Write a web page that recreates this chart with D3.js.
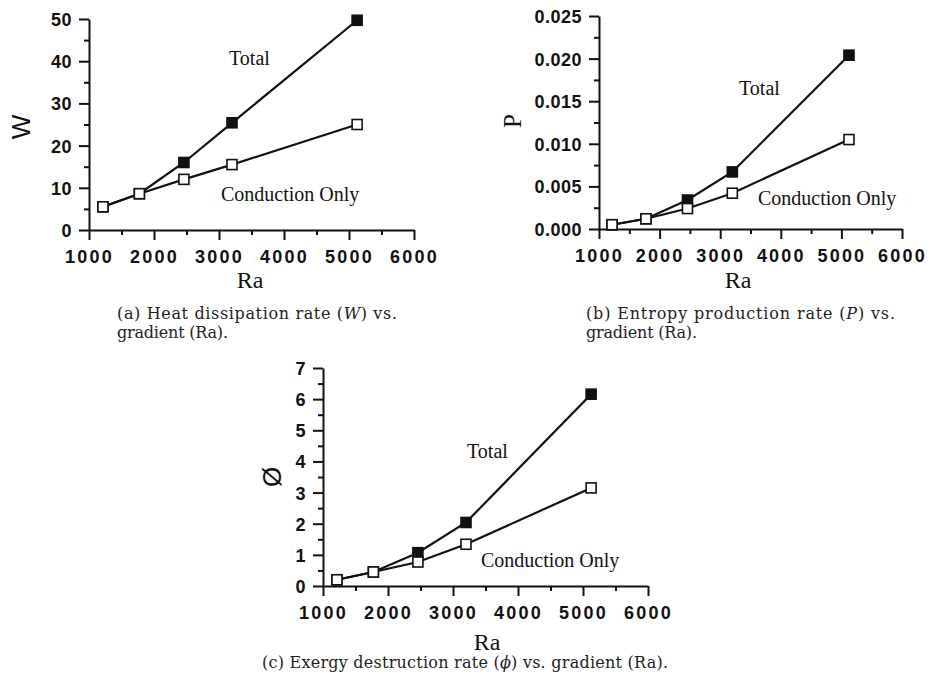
<!DOCTYPE html>
<html>
<head>
<meta charset="utf-8">
<script src="https://cdn.jsdelivr.net/npm/d3@7"></script>
<style>
  html, body { margin: 0; padding: 0; background: #fff; }
  svg { display: block; }
  .tick text { font-family: "Liberation Sans", Arial, sans-serif; font-weight: bold; fill: #111; }
  .cap { font-family: "DejaVu Serif", serif; font-size: 16px; fill: #222; }
</style>
</head>
<body>
<svg id="fig" width="928" height="679"></svg>
<script>
// Rayleigh numbers of the runs
const ra = [1215, 1775, 2460, 3200, 5125];

// (a) heat dissipation rate W
const wTotal = [5.5, 8.6, 16.0, 25.4, 49.7];
const wConduction = [5.5, 8.6, 12.0, 15.5, 25.0];

// (b) entropy production rate P
const pTotal = [0.0005, 0.0012, 0.0034, 0.0067, 0.0204];
const pConduction = [0.0005, 0.0012, 0.0024, 0.0042, 0.0105];

// (c) exergy destruction rate phi
const phiTotal = [0.2, 0.45, 1.07, 2.04, 6.16];
const phiConduction = [0.2, 0.45, 0.77, 1.34, 3.15];

// tick values
const raTicks = [1000, 2000, 3000, 4000, 5000, 6000];
const wTicks = [0, 10, 20, 30, 40, 50];
const pTicks = [0, 0.005, 0.010, 0.015, 0.020, 0.025];
const phiTicks = [0, 1, 2, 3, 4, 5, 6, 7];

const svg = d3.select("#fig");
const SERIF = "'Liberation Serif', 'Times New Roman', serif";
const SANS = "'Liberation Sans', Arial, sans-serif";

const panels = [
  {
    x0: 89, x1: 414, y0: 230, y1: 19,
    yMax: 50, yTicks: wTicks, yMinorStep: 5, yFmt: d3.format("d"),
    total: wTotal, cond: wConduction,
    yLabel: "W", yLabelFont: SANS, yLabelSize: 26, yLabelPos: [21, 127],
    raPos: [250, 288],
    totalPos: [229, 65], condPos: [221, 201],
    caption: [
      { parts: ["(a) Heat dissipation rate (", ["W"], ") vs."], len: 280 },
      { parts: ["gradient (Ra)."], len: 111 }
    ],
    capPos: [117, 319]
  },
  {
    x0: 599, x1: 902, y0: 229, y1: 16,
    yMax: 0.025, yTicks: pTicks, yMinorStep: 0.0025, yFmt: d3.format(".3f"),
    total: pTotal, cond: pConduction,
    yLabel: "P", yLabelFont: SERIF, yLabelSize: 25, yLabelPos: [512, 121],
    raPos: [738, 288],
    totalPos: [739, 95], condPos: [758, 205],
    caption: [
      { parts: ["(b) Entropy production rate (", ["P"], ") vs."], len: 309 },
      { parts: ["gradient (Ra)."], len: 111 }
    ],
    capPos: [586, 319]
  },
  {
    x0: 323, x1: 648, y0: 586, y1: 368,
    yMax: 7, yTicks: phiTicks, yMinorStep: 0.5, yFmt: d3.format("d"),
    total: phiTotal, cond: phiConduction,
    yLabel: "Ø", yLabelFont: SANS, yLabelSize: 26, yLabelPos: [272, 477],
    raPos: [487, 650],
    totalPos: [467, 458], condPos: [481, 567],
    caption: [
      { parts: ["(c) Exergy destruction rate (", ["ϕ"], ") vs. gradient (Ra)."], len: 406 }
    ],
    capPos: [262, 668]
  }
];

panels.forEach(p => {
  const x = d3.scaleLinear().domain([1000, 6000]).range([p.x0, p.x1]);
  const y = d3.scaleLinear().domain([0, p.yMax]).range([p.y0, p.y1]);
  const g = svg.append("g");

  // minor ticks
  const xMinor = d3.range(1500, 6000, 1000);
  const yMinor = d3.range(p.yMinorStep, p.yMax, p.yMinorStep * 2);
  g.append("g")
    .attr("transform", `translate(0,${p.y0})`)
    .call(d3.axisBottom(x).tickValues(xMinor).tickSize(5).tickFormat(""))
    .call(a => a.select(".domain").remove());
  g.append("g")
    .attr("transform", `translate(${p.x0},0)`)
    .call(d3.axisLeft(y).tickValues(yMinor).tickSize(5).tickFormat(""))
    .call(a => a.select(".domain").remove());

  // major axes
  const xa = g.append("g")
    .attr("transform", `translate(0,${p.y0})`)
    .call(d3.axisBottom(x).tickValues(raTicks).tickSize(10).tickSizeOuter(0).tickFormat(d3.format("d")));
  xa.selectAll(".tick text")
    .attr("y", 33).attr("dy", 0)
    .style("font-size", "18px").style("letter-spacing", "2.2px");

  const ya = g.append("g")
    .attr("transform", `translate(${p.x0},0)`)
    .call(d3.axisLeft(y).tickValues(p.yTicks).tickSize(10).tickSizeOuter(0).tickFormat(p.yFmt));
  ya.selectAll(".tick text")
    .attr("x", -17).attr("dy", "0.36em")
    .style("font-size", "18px").style("letter-spacing", "0.5px");

  g.selectAll(".domain, .tick line").attr("stroke", "#111").attr("stroke-width", 2);

  // series: lines first, then markers, conduction on top
  const line = d3.line().x((d, i) => x(ra[i])).y(d => y(d));
  const series = [
    { vals: p.total, fill: "#111" },
    { vals: p.cond, fill: "#fff" }
  ];
  series.forEach(s => {
    g.append("path").datum(s.vals)
      .attr("d", line).attr("fill", "none")
      .attr("stroke", "#111").attr("stroke-width", 2.2);
  });
  series.forEach(s => {
    g.selectAll(null).data(s.vals).enter().append("rect")
      .attr("x", (d, i) => x(ra[i]) - 5)
      .attr("y", d => y(d) - 5)
      .attr("width", 10).attr("height", 10)
      .attr("fill", s.fill).attr("stroke", "#111").attr("stroke-width", 1.6);
  });

  // series labels
  g.append("text")
    .attr("x", p.totalPos[0]).attr("y", p.totalPos[1])
    .style("font-family", SERIF).style("font-size", "20px").style("fill", "#111")
    .text("Total");
  g.append("text")
    .attr("x", p.condPos[0]).attr("y", p.condPos[1])
    .style("font-family", SERIF).style("font-size", "20px").style("fill", "#111")
    .text("Conduction Only");

  // axis titles
  g.append("text")
    .attr("x", p.raPos[0]).attr("y", p.raPos[1])
    .attr("text-anchor", "middle")
    .style("font-family", SERIF).style("font-size", "24px").style("fill", "#111")
    .text("Ra");

  g.append("text")
    .attr("transform", `translate(${p.yLabelPos[0]},${p.yLabelPos[1]}) rotate(-90)`)
    .attr("text-anchor", "middle").attr("dy", "0.35em")
    .style("font-family", p.yLabelFont)
    .style("font-size", p.yLabelSize + "px")
    .style("fill", "#111")
    .text(p.yLabel);

  // caption
  p.caption.forEach((ln, li) => {
    const t = g.append("text").attr("class", "cap")
      .attr("x", p.capPos[0]).attr("y", p.capPos[1] + li * 19)
      .attr("textLength", ln.len).attr("lengthAdjust", "spacing");
    ln.parts.forEach(part => {
      if (Array.isArray(part)) {
        t.append("tspan").style("font-style", "italic").text(part[0]);
      } else {
        t.append("tspan").text(part);
      }
    });
  });
});
</script>
</body>
</html>
